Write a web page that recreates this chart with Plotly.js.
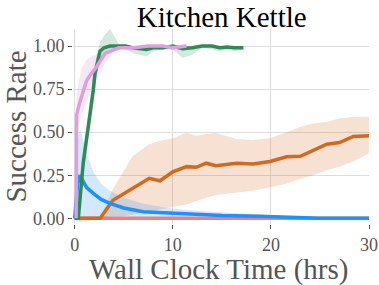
<!DOCTYPE html>
<html>
<head>
<meta charset="utf-8">
<script src="https://cdn.plot.ly/plotly-3.0.1.min.js"></script>
<style>html,body{margin:0;padding:0;background:#fff;}#chart{width:379px;height:285px;}</style>
</head>
<body>
<div id="chart"></div>
<script>
// Green series
const greenX = [0, 0.37, 0.87, 1.49, 1.72, 1.9, 2.07, 2.58, 3.0, 3.6, 4.5, 5.2, 5.9, 6.5, 7.3, 8.0, 9.0, 10.0, 11.0, 12.0, 13.0, 14.0, 14.8, 15.5, 16.3, 17.2];
const greenY = [0, 0, 0.32, 0.57, 0.66, 0.745, 0.84, 0.97, 0.99, 1.0, 1.0, 1.0, 0.99, 0.985, 0.98, 0.99, 0.99, 1.0, 0.985, 0.99, 1.0, 1.0, 0.99, 0.995, 0.99, 0.99];
const greenUp = [0, 0, 0.38, 0.64, 0.74, 0.82, 0.9, 1.02, 1.06, 1.1, 1.01, 1.0, 1.0, 0.995, 0.99, 1.0, 1.0, 1.0, 1.0, 1.0, 1.0, 1.0, 1.0, 1.0, 1.0, 1.0];
const greenLo = [0, 0, 0.26, 0.5, 0.58, 0.67, 0.78, 0.92, 0.95, 0.98, 0.99, 0.98, 0.96, 0.95, 0.94, 0.97, 0.98, 0.98, 0.93, 0.95, 0.99, 0.98, 0.97, 0.98, 0.97, 0.98];

// Pink series
const pinkX = [0.15, 0.2, 0.45, 0.71, 1.22, 1.7, 2.24, 3.09, 3.9, 4.5, 6.0, 7.5, 9.0, 10.0, 11.4];
const pinkY = [0, 0.6, 0.66, 0.706, 0.8, 0.84, 0.88, 0.957, 0.977, 0.99, 0.99, 1.0, 1.0, 0.99, 1.0];
const pinkUp = [0.05, 0.72, 0.8, 0.87, 0.92, 0.94, 0.95, 0.98, 1.0, 1.0, 1.0, 1.0, 1.0, 1.0, 1.0];
const pinkLo = [0, 0.5, 0.55, 0.6, 0.68, 0.74, 0.8, 0.9, 0.96, 0.98, 0.98, 0.99, 0.99, 0.98, 0.99];

// Blue series
const blueX = [0, 0.3, 0.54, 0.8, 1.2, 1.9, 2.7, 3.6, 5.0, 7.0, 9.5, 12.0, 15.0, 18.8, 21.0, 23.0, 25.0, 30.0];
const blueY = [0, 0.2, 0.25, 0.22, 0.18, 0.145, 0.11, 0.087, 0.06, 0.038, 0.03, 0.023, 0.017, 0.012, 0.007, 0.002, 0, 0];
const blueUp = [0, 0.45, 0.52, 0.46, 0.38, 0.27, 0.2, 0.16, 0.12, 0.085, 0.06, 0.045, 0.035, 0.025, 0.015, 0.005, 0.002, 0.002];
const blueLo = [0, -0.02, -0.02, -0.02, -0.02, -0.01, 0, 0.01, 0.01, 0.005, 0.005, 0.003, 0.002, 0.001, 0, -0.002, -0.002, -0.002];

// Orange series
const orangeX = [0, 2.6, 3.9, 5.9, 7.6, 8.7, 10.0, 11.4, 12.4, 13.4, 14.4, 16.5, 18.2, 19.9, 21.6, 23.0, 24.3, 25.7, 27.0, 28.4, 30.0];
const orangeY = [0, 0, 0.105, 0.174, 0.232, 0.218, 0.27, 0.30, 0.296, 0.32, 0.305, 0.32, 0.315, 0.33, 0.357, 0.36, 0.395, 0.43, 0.44, 0.475, 0.48];
const orangeUp = [0, 0, 0.17, 0.36, 0.43, 0.45, 0.465, 0.497, 0.48, 0.49, 0.495, 0.46, 0.455, 0.465, 0.5, 0.532, 0.55, 0.56, 0.58, 0.59, 0.59];
const orangeLo = [0, 0, 0, 0.02, 0.04, 0.05, 0.065, 0.08, 0.1, 0.12, 0.135, 0.15, 0.16, 0.18, 0.2, 0.23, 0.25, 0.28, 0.3, 0.33, 0.377];

// Red series
const redX = [0, 30];
const redY = [0, 0];

const series = [
  {x: orangeX, y: orangeY, up: orangeUp, lo: orangeLo, color: '#d2691e', fill: 'rgba(210,105,30,0.2)'},
  {x: blueX, y: blueY, up: blueUp, lo: blueLo, color: '#1e90ff', fill: 'rgba(30,144,255,0.2)'},
  {x: greenX, y: greenY, up: greenUp, lo: greenLo, color: '#2e8b57', fill: 'rgba(46,139,87,0.2)'},
  {x: pinkX, y: pinkY, up: pinkUp, lo: pinkLo, color: '#dda0dd', fill: 'rgba(221,160,221,0.25)'}
];

const traces = [];
series.forEach(s => {
  traces.push({x: s.x, y: s.lo, mode: 'lines', line: {width: 0}, hoverinfo: 'skip', showlegend: false});
  traces.push({x: s.x, y: s.up, mode: 'lines', line: {width: 0}, fill: 'tonexty', fillcolor: s.fill, hoverinfo: 'skip', showlegend: false});
});
traces.push({x: redX, y: redY, mode: 'lines', line: {color: '#f08080', width: 3.5}, showlegend: false});
series.forEach(s => {
  traces.push({x: s.x, y: s.y, mode: 'lines', line: {color: s.color, width: 3.5}, showlegend: false});
});

const font = 'Liberation Serif, Times New Roman, serif';
const layout = {
  width: 379, height: 285,
  margin: {l: 73, r: 10, t: 29, b: 61},
  paper_bgcolor: '#fff', plot_bgcolor: '#fff',
  title: {text: 'Kitchen Kettle', font: {family: font, size: 29, color: '#000'}, x: 0.585, xanchor: 'center', y: 0.975, yanchor: 'top'},
  xaxis: {
    range: [-0.17, 30], tickvals: [0, 10, 20, 30], ticks: 'outside', ticklen: 4, tickcolor: '#555',
    showgrid: true, gridcolor: '#dddddd', gridwidth: 1, zeroline: false, showline: false,
    tickfont: {family: font, size: 18, color: '#555'}
  },
  yaxis: {
    range: [-0.033, 1.099], tickvals: [0, 0.25, 0.5, 0.75, 1.0], tickformat: '.2f', ticks: 'outside', ticklen: 4, tickcolor: '#555',
    showgrid: true, gridcolor: '#dddddd', gridwidth: 1, zeroline: false, showline: false,
    tickfont: {family: font, size: 18, color: '#555'},
    title: {text: 'Success Rate', font: {family: font, size: 29, color: '#555'}, standoff: 2}
  },
  annotations: [{
    text: 'Wall Clock Time (hrs)', xref: 'paper', yref: 'paper', x: 0.493, y: -0.146,
    xanchor: 'center', yanchor: 'top', showarrow: false, borderpad: 0,
    font: {family: font, size: 29, color: '#555'}
  }]
};

Plotly.newPlot('chart', traces, layout, {displayModeBar: false, staticPlot: true});
</script>
</body>
</html>
